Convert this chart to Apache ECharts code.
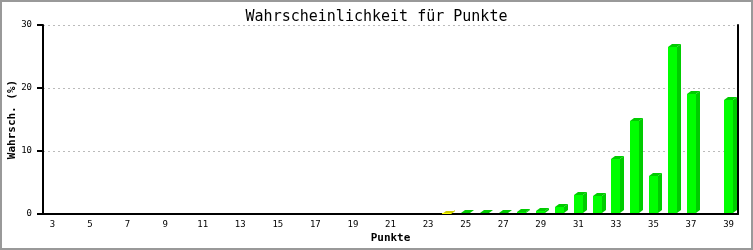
<!DOCTYPE html>
<html><head><meta charset="utf-8">
<script src="https://cdn.jsdelivr.net/npm/echarts@6/dist/echarts.min.js"></script>
<style>html,body{margin:0;padding:0;background:#fff}#c{width:753px;height:250px}</style>
</head><body><div id="c"></div>
<script>
const categories = ['3','4','5','6','7','8','9','10','11','12','13','14','15','16','17','18','19','20','21','22','23','24','25','26','27','28','29','30','31','32','33','34','35','36','37','38','39'];
const values = [0,0,0,0,0,0,0,0,0,0,0,0,0,0,0,0,0,0,0,0,0,0.05,0.15,0.15,0.15,0.3,0.45,1.15,3.05,2.9,8.8,14.8,6.1,26.5,19.0,0,18.1];
const highlightCategory = '24';
const yTicks = [0, 10, 20, 30];

const chart = echarts.init(document.getElementById('c'), null, {renderer: 'canvas'});
const mono = 'DejaVu Sans Mono';
const data = values.map((v, i) => [i, v]);

function renderItem(params, api) {
  const v = api.value(1);
  if (!(v > 0)) return null;
  const idx = api.value(0);
  const base = api.coord([idx, 0]);
  const top = api.coord([idx, v]);
  const d = 4, h = 3;
  const x0 = Math.round(base[0] - 4.5), x1 = x0 + 9;
  const yb = base[1] - 1, yt = Math.round(top[1]);
  const yellow = categories[idx] === highlightCategory;
  const front = yellow ? '#ffff00' : '#00ff00';
  const dark = yellow ? '#cccc00' : '#00cc00';
  return {
    type: 'group',
    children: [
      {type: 'polygon', shape: {points: [[x1, yt], [x1 + d, yt - h], [x1 + d, yb - h], [x1, yb]]}, style: {fill: dark}},
      {type: 'polygon', shape: {points: [[x0, yt], [x0 + d, yt - h], [x1 + d, yt - h], [x1, yt]]}, style: {fill: dark}},
      {type: 'rect', shape: {x: x0, y: yt, width: x1 - x0, height: yb - yt}, style: {fill: front}}
    ]
  };
}

chart.setOption({
  animation: false,
  backgroundColor: '#fff',
  title: {
    text: 'Wahrscheinlichkeit für Punkte', left: 'center', top: 5,
    textStyle: {fontFamily: mono, fontSize: 15, fontWeight: 'normal', color: '#000'}
  },
  graphic: [{type: 'rect', shape: {x: 1, y: 1, width: 751, height: 248}, style: {fill: 'none', stroke: '#999', lineWidth: 2}, silent: true}],
  grid: {left: 43, right: 15, top: 25, bottom: 36, containLabel: false, outerBoundsMode: 'none'},
  xAxis: {
    type: 'category', data: categories, boundaryGap: true,
    name: 'Punkte', nameLocation: 'middle', nameGap: 19, nameMoveOverlap: false,
    nameTextStyle: {fontFamily: mono, fontSize: 11, fontWeight: 'bold', color: '#000'},
    axisLine: {lineStyle: {color: '#000', width: 2}},
    axisTick: {show: false},
    axisLabel: {interval: 1, fontFamily: mono, fontSize: 9, color: '#000', margin: 6},
    splitLine: {show: false}
  },
  yAxis: [{
    type: 'value', min: yTicks[0], max: yTicks[yTicks.length - 1], interval: 10,
    name: 'Wahrsch. (%)', nameLocation: 'middle', nameGap: 25, nameRotate: 90, nameMoveOverlap: false,
    nameTextStyle: {fontFamily: mono, fontSize: 11, fontWeight: 'bold', color: '#000'},
    axisLine: {show: true, lineStyle: {color: '#000', width: 2}},
    axisTick: {show: true, length: 6, lineStyle: {color: '#000', width: 2}},
    axisLabel: {fontFamily: mono, fontSize: 9, color: '#000', margin: 11},
    splitLine: {show: true, lineStyle: {color: '#bbb', type: [2, 3], width: 1}}
  }, {
    type: 'value', min: 0, max: 30, interval: 10, position: 'right',
    axisLine: {show: true, lineStyle: {color: '#000', width: 2}},
    axisTick: {show: false}, axisLabel: {show: false}, splitLine: {show: false}
  }],
  series: [{
    type: 'custom', renderItem: renderItem, data: data,
    encode: {x: 0, y: 1}, clip: false
  }]
});
</script></body></html>
